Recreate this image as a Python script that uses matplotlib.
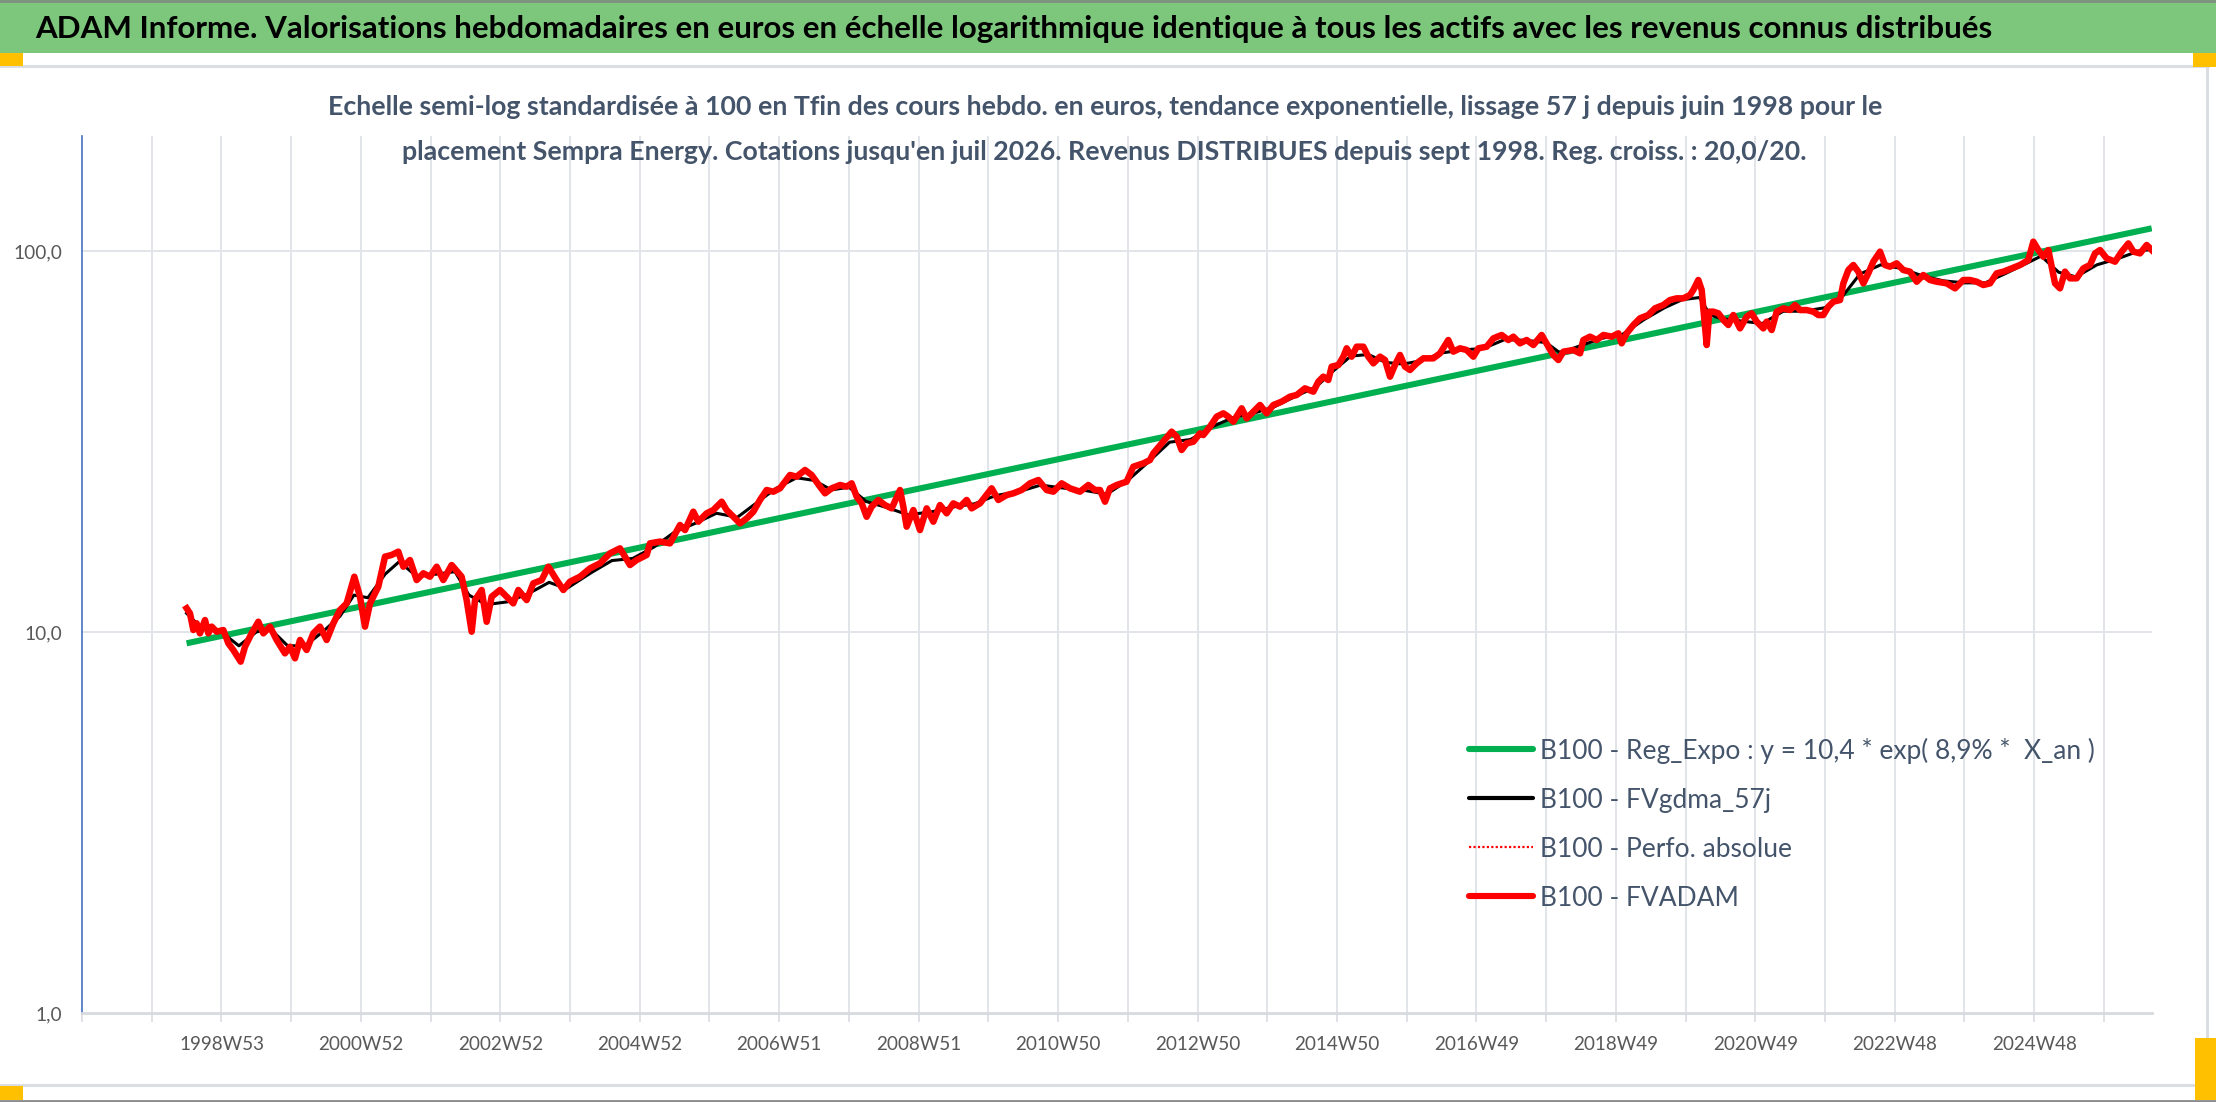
import matplotlib
matplotlib.use('Agg')
import matplotlib.pyplot as plt
from matplotlib.ticker import FixedLocator, FixedFormatter, NullLocator
from matplotlib.lines import Line2D
from matplotlib.patches import Rectangle

# ---------------- data ----------------
tick_years = list(range(1997, 2027))
label_years = [1999, 2001, 2003, 2005, 2007, 2009, 2011, 2013, 2015, 2017, 2019, 2021, 2023, 2025]
label_texts = ["1998W53", "2000W52", "2002W52", "2004W52", "2006W51", "2008W51", "2010W50",
               "2012W50", "2014W50", "2016W49", "2018W49", "2020W49", "2022W48", "2024W48"]
y_ticks = [1, 10, 100]
y_labels = ["1,0", "10,0", "100,0"]

trend_t = [1998.50, 2026.686]
trend_v = [9.34, 114.7]

fvadam_t = [
    1998.501, 1998.549, 1998.597, 1998.644, 1998.692, 1998.764, 1998.812, 1998.860, 1998.931, 1999.027,
    1999.099, 1999.170, 1999.276, 1999.338, 1999.433, 1999.529, 1999.601, 1999.696, 1999.792, 1999.911,
    1999.983, 2000.055, 2000.127, 2000.222, 2000.318, 2000.413, 2000.509, 2000.605, 2000.700, 2000.796,
    2000.906, 2000.987, 2001.059, 2001.131, 2001.250, 2001.346, 2001.441, 2001.537, 2001.609, 2001.704,
    2001.800, 2001.896, 2001.991, 2002.087, 2002.182, 2002.302, 2002.445, 2002.517, 2002.589, 2002.637,
    2002.732, 2002.804, 2002.876, 2002.995, 2003.091, 2003.186, 2003.258, 2003.378, 2003.473, 2003.593,
    2003.689, 2003.808, 2003.904, 2003.999, 2004.143, 2004.286, 2004.430, 2004.573, 2004.716, 2004.860,
    2004.955, 2005.099, 2005.147, 2005.290, 2005.434, 2005.577,
    2005.649, 2005.768, 2005.840, 2005.959, 2006.055, 2006.175, 2006.246, 2006.342, 2006.438, 2006.533,
    2006.629, 2006.724, 2006.820, 2006.916, 2007.011, 2007.155, 2007.250, 2007.370, 2007.465, 2007.585,
    2007.657, 2007.752, 2007.872, 2007.968, 2008.039, 2008.111, 2008.183, 2008.254, 2008.326, 2008.422,
    2008.517, 2008.613, 2008.733, 2008.780, 2008.828, 2008.924, 2009.019, 2009.115, 2009.211, 2009.306,
    2009.402, 2009.497, 2009.593, 2009.689, 2009.760, 2009.880, 2010.047, 2010.143, 2010.262, 2010.358,
    2010.477, 2010.597, 2010.717, 2010.836, 2010.932, 2011.051, 2011.171, 2011.314, 2011.434, 2011.529,
    2011.601, 2011.673, 2011.744, 2011.840, 2011.983, 2012.079, 2012.223, 2012.318, 2012.366, 2012.486,
    2012.629, 2012.701, 2012.772, 2012.844, 2012.940, 2013.035,
    2013.083, 2013.179, 2013.274, 2013.370, 2013.442, 2013.514, 2013.633, 2013.705, 2013.800, 2013.896,
    2013.992, 2014.087, 2014.207, 2014.326, 2014.422, 2014.541, 2014.661, 2014.733, 2014.804, 2014.876,
    2014.924, 2015.020, 2015.091, 2015.139, 2015.211, 2015.283, 2015.378, 2015.450, 2015.522, 2015.617,
    2015.689, 2015.761, 2015.832, 2015.904, 2015.976, 2016.048, 2016.143, 2016.239, 2016.382, 2016.478,
    2016.597, 2016.669, 2016.765, 2016.860, 2016.956, 2017.028, 2017.147, 2017.243, 2017.362, 2017.458,
    2017.530, 2017.625, 2017.721, 2017.817, 2017.936, 2018.032, 2018.103, 2018.175, 2018.247, 2018.390,
    2018.486, 2018.534, 2018.629, 2018.725, 2018.821, 2018.940, 2019.036, 2019.083, 2019.155, 2019.251,
    2019.346, 2019.466, 2019.562, 2019.681, 2019.777, 2019.872, 2019.968, 2020.064, 2020.111, 2020.183,
    2020.231, 2020.279, 2020.303, 2020.341,
    2020.398, 2020.470, 2020.542, 2020.613, 2020.685, 2020.781, 2020.876, 2020.948, 2021.020, 2021.115,
    2021.163, 2021.235, 2021.307, 2021.402, 2021.498, 2021.570, 2021.641, 2021.737, 2021.833, 2021.904,
    2021.976, 2022.048, 2022.119, 2022.215, 2022.263, 2022.335, 2022.406, 2022.478, 2022.550, 2022.621,
    2022.693, 2022.789, 2022.860, 2022.932, 2023.028, 2023.123, 2023.219, 2023.315, 2023.410, 2023.506,
    2023.602, 2023.745, 2023.865, 2023.984, 2024.080, 2024.175, 2024.271, 2024.367, 2024.462, 2024.558,
    2024.677, 2024.797, 2024.916, 2024.988, 2025.060, 2025.131, 2025.203, 2025.251, 2025.299, 2025.370,
    2025.442, 2025.514, 2025.610, 2025.705, 2025.801, 2025.873, 2025.944, 2026.040, 2026.160, 2026.255,
    2026.351, 2026.423, 2026.518, 2026.614, 2026.686]
fvadam_v = [
    11.54, 11.19, 10.12, 10.54, 9.92, 10.75, 9.92, 10.33, 10.02, 10.12,
    9.34, 8.97, 8.36, 9.15, 9.92, 10.64, 9.92, 10.33, 9.53, 8.79,
    9.15, 8.53, 9.53, 8.97, 9.92, 10.33, 9.53, 10.54, 11.42, 11.89,
    13.97, 12.38, 10.33, 11.89, 13.15, 15.77, 15.93, 16.25, 14.84, 15.45,
    13.69, 14.26, 13.97, 14.84, 13.69, 14.99, 13.97, 12.13, 10.02, 12.13,
    12.89, 10.64, 12.38, 12.89, 12.38, 11.89, 12.89, 12.13, 13.42, 13.69,
    14.84, 13.69, 12.89, 13.56, 13.97, 14.69, 15.15, 16.09, 16.58, 14.99,
    15.45, 15.93, 17.09, 17.27, 17.09, 19.09,
    18.52, 20.69, 19.48, 20.49, 20.90, 21.98, 20.90, 20.07, 19.28, 19.87,
    20.69, 22.21, 23.59, 23.35, 23.83, 25.83, 25.57, 26.62, 25.83, 24.07,
    23.12, 23.83, 24.31, 24.07, 24.56, 22.66, 21.76, 20.07, 21.33, 22.21,
    21.54, 21.11, 23.59, 21.33, 18.90, 20.90, 18.52, 21.11, 19.48, 21.54,
    20.49, 21.76, 21.33, 22.21, 21.11, 21.76, 23.83, 22.21, 22.88, 23.12,
    23.59, 24.56, 25.06, 23.59, 23.35, 24.56, 23.83, 23.35, 24.31, 23.59,
    23.59, 21.98, 23.83, 24.31, 24.81, 27.16, 27.71, 28.28, 29.44, 31.27,
    33.56, 32.56, 30.04, 31.27, 31.59, 33.22,
    32.89, 34.59, 36.74, 37.50, 36.74, 35.65, 38.65, 36.37, 37.87, 39.43,
    37.50, 39.43, 40.24, 41.47, 41.89, 43.61, 42.74, 45.41, 46.80, 45.87,
    49.72, 50.21, 52.81, 55.54, 52.81, 56.09, 56.09, 52.81, 50.72, 52.81,
    51.76, 46.80, 50.21, 53.35, 49.72, 48.73, 50.72, 52.28, 52.28, 53.89,
    58.40, 54.43, 55.54, 54.98, 52.81, 55.54, 56.09, 58.99, 60.20, 58.40,
    59.59, 57.24, 58.40, 56.66, 60.20, 56.09, 53.35, 51.76, 54.43, 54.98,
    53.89, 58.40, 59.59, 58.40, 60.20, 59.59, 60.80, 57.24, 60.80, 63.95,
    66.58, 67.94, 70.73, 72.16, 74.36, 75.12, 75.12, 76.66, 79.02, 83.93,
    79.02, 63.31, 56.66, 69.31,
    69.31, 68.62, 65.92, 63.95, 67.92, 62.66, 67.24, 68.62, 65.26, 62.66,
    65.26, 62.04, 69.31, 70.71, 70.00, 72.16, 70.00, 70.00, 69.31, 67.92,
    67.92, 71.44, 73.62, 74.36, 82.25, 89.15, 91.89, 88.27, 82.25, 87.38,
    93.76, 99.61, 91.89, 90.97, 92.81, 89.15, 88.27, 83.08, 86.50, 83.93,
    83.08, 82.25, 79.80, 83.93, 83.93, 83.08, 81.43, 82.25, 87.38, 88.27,
    90.05, 91.89, 94.71, 105.8, 100.6, 96.63, 100.6, 90.97, 82.25, 79.80,
    88.27, 84.79, 84.79, 90.05, 91.89, 98.60, 100.6, 95.68, 93.76, 99.61,
    104.7, 99.61, 98.60, 103.7, 100.6]

fvgdma_t = [
    1998.50, 1998.70, 1999.00, 1999.25, 1999.50, 1999.70, 1999.95, 2000.20, 2000.45, 2000.70,
    2000.90, 2001.10, 2001.35, 2001.55, 2001.80, 2002.10, 2002.35, 2002.55, 2002.80, 2003.10,
    2003.40, 2003.70, 2003.95, 2004.30, 2004.60, 2004.90, 2005.20, 2005.50, 2005.80, 2006.10,
    2006.40, 2006.70, 2006.95, 2007.25, 2007.50, 2007.75, 2008.00, 2008.25, 2008.55, 2008.85,
    2009.20, 2009.50, 2009.80, 2010.10, 2010.45, 2010.75, 2011.05, 2011.40, 2011.70, 2012.00,
    2012.30, 2012.60, 2012.90, 2013.20, 2013.50, 2013.80, 2014.10, 2014.40, 2014.70, 2014.95,
    2015.20, 2015.45, 2015.70, 2015.95, 2016.20, 2016.50, 2016.80, 2017.10, 2017.40, 2017.70,
    2018.00, 2018.20, 2018.50, 2018.80, 2019.10, 2019.40, 2019.70, 2019.95, 2020.20, 2020.35,
    2020.50, 2020.80, 2021.10, 2021.40, 2021.70, 2022.00, 2022.25, 2022.50, 2022.80, 2023.10,
    2023.40, 2023.70, 2024.00, 2024.30, 2024.60, 2024.90, 2025.10, 2025.35, 2025.60, 2025.90,
    2026.20, 2026.50, 2026.686]
fvgdma_v = [
    11.2, 10.3, 10.0, 9.2, 10.0, 10.2, 9.2, 9.2, 10.0, 11.0,
    12.5, 12.3, 14.2, 15.3, 14.0, 14.2, 14.4, 12.5, 11.8, 12.0,
    12.6, 13.5, 13.0, 14.3, 15.4, 15.6, 16.7, 18.3, 19.3, 20.5,
    20.0, 22.0, 23.8, 25.4, 25.0, 23.6, 24.0, 22.0, 21.2, 20.3,
    20.7, 21.3, 21.7, 22.8, 23.4, 24.3, 23.9, 23.5, 23.0, 25.0,
    28.0, 31.5, 32.0, 34.5, 36.5, 37.5, 39.0, 41.5, 44.0, 48.5,
    53.0, 53.5, 51.0, 50.5, 51.5, 54.0, 55.0, 55.5, 58.5, 58.3,
    57.5, 54.0, 56.5, 59.0, 60.5, 66.0, 71.0, 74.5, 75.5, 68.0,
    66.5, 65.5, 64.5, 69.5, 69.5, 71.0, 76.0, 87.0, 92.0, 90.0,
    86.0, 83.5, 82.5, 82.5, 87.5, 93.0, 97.0, 88.0, 85.5, 92.0,
    95.5, 100.0, 101.0]

legend_labels = ["B100 - Reg_Expo : y = 10,4 * exp( 8,9% *  X_an )",
                 "B100 - FVgdma_57j",
                 "B100 - Perfo. absolue",
                 "B100 - FVADAM"]

title_text = ("ADAM Informe. Valorisations hebdomadaires en euros en échelle logarithmique "
              "identique à tous les actifs avec les revenus connus distribués")
sub1 = ("Echelle semi-log standardisée à 100 en Tfin des cours hebdo. en euros, tendance "
        "exponentielle, lissage 57 j depuis juin 1998 pour le")
sub2 = ("placement Sempra Energy. Cotations jusqu'en juil 2026. Revenus DISTRIBUES depuis "
        "sept 1998. Reg. croiss. : 20,0/20.")

# ---------------- layout ----------------
W, H = 2216, 1102
DPI = 100
FAM = ['Lato', 'Liberation Sans', 'DejaVu Sans']
TXT = '#44546A'
TICKC = '#595959'
GRID = '#E1E4E8'

fig = plt.figure(figsize=(W / DPI, H / DPI), dpi=DPI)
fig.patch.set_facecolor('white')
renderer = fig.canvas.get_renderer()


def fx(x):
    return x / W


def fy(y):
    return 1 - y / H


def rect_px(x0, y0, x1, y1, color, z=0):
    fig.patches.append(Rectangle((fx(x0), fy(y1)), (x1 - x0) / W, (y1 - y0) / H,
                                 transform=fig.transFigure, facecolor=color,
                                 edgecolor='none', zorder=z))


def hline_px(x0, x1, y, color, lw):
    fig.add_artist(Line2D([fx(x0), fx(x1)], [fy(y), fy(y)], transform=fig.transFigure,
                          color=color, lw=lw))


def vline_px(x, y0, y1, color, lw):
    fig.add_artist(Line2D([fx(x), fx(x)], [fy(y0), fy(y1)], transform=fig.transFigure,
                          color=color, lw=lw))


def fit_size(text, target_w, weight='normal', base=20):
    t = fig.text(0, 0, text, fontsize=base, family=FAM, fontweight=weight)
    w = t.get_window_extent(renderer).width
    t.remove()
    return base * target_w / w


# title bar & frame
rect_px(0, 0, W, 53, '#7DC77D')
hline_px(0, W, 1, '#7f8f7f', 2)
hline_px(0, 2208, 66, '#DADDE2', 2.2)
hline_px(0, 2208, 1085, '#DADDE2', 2.2)
vline_px(2207, 66, 1085, '#DADDE2', 2.2)
hline_px(0, W, 1101, '#8a8a8a', 2)
rect_px(0, 53, 23, 66, '#FFC000', 5)
rect_px(2193, 53, W, 67, '#FFC000', 5)
rect_px(0, 1086, 23, 1100, '#FFC000', 5)
rect_px(2195, 1038, W, 1100, '#FFC000', 5)

fs_title = fit_size(title_text, 1953, 'bold')
fig.text(fx(35), fy(29), title_text, fontsize=fs_title, family=FAM, fontweight='bold',
         color='black', ha='left', va='center')

fs_sub = fit_size(sub1, 1560, 'bold')
fig.text(fx(1105), fy(107), sub1, fontsize=fs_sub, family=FAM, fontweight='bold',
         color=TXT, ha='center', va='center', zorder=10)
fig.text(fx(1104), fy(152), sub2, fontsize=fs_sub, family=FAM, fontweight='bold',
         color=TXT, ha='center', va='center', zorder=10)

# ---------------- axes ----------------
ax = fig.add_axes([fx(82), fy(1013), (2152 - 82) / W, (1013 - 136) / H])
ax.set_facecolor('none')
ax.set_yscale('log')
ax.set_xlim(1997.0, 2026.69)
ax.set_ylim(1.0, 200.4)

ax.plot(trend_t, trend_v, color='#00B050', lw=4.4, solid_capstyle='butt', zorder=3)
ax.plot(fvgdma_t, fvgdma_v, color='black', lw=2.2, zorder=4)
ax.plot(fvadam_t, fvadam_v, color='red', lw=1.2, ls=':', zorder=4.5)
ax.plot(fvadam_t, fvadam_v, color='red', lw=4.7, solid_joinstyle='round', zorder=5)

# grid
for yv in y_ticks[1:]:
    ax.axhline(yv, color=GRID, lw=1.4, zorder=1)
for xv in tick_years[1:]:
    ax.axvline(xv, color=GRID, lw=1.4, zorder=1)

for s in ['top', 'right']:
    ax.spines[s].set_visible(False)
ax.spines['left'].set_color('#4472C4')
ax.spines['left'].set_linewidth(1.2)
ax.spines['bottom'].set_color('#D6D9DE')
ax.spines['bottom'].set_linewidth(2.0)

fs_xt = fit_size("1998W53", 85)
fs_yt = fit_size("100,0", 49)

ax.xaxis.set_major_locator(FixedLocator(tick_years))
lab_map = dict(zip(label_years, label_texts))
ax.xaxis.set_major_formatter(FixedFormatter([lab_map.get(y, '') for y in tick_years]))
ax.xaxis.set_minor_locator(NullLocator())
ax.tick_params(axis='x', direction='out', length=6.5, width=1.1, color='#D6D9DE',
               pad=10, labelsize=fs_xt, labelcolor=TICKC)
for lab in ax.get_xticklabels():
    lab.set_family(FAM)

ax.yaxis.set_major_locator(FixedLocator(y_ticks))
ax.yaxis.set_major_formatter(FixedFormatter(y_labels))
ax.yaxis.set_minor_locator(NullLocator())
ax.tick_params(axis='y', length=0, pad=14, labelsize=fs_yt, labelcolor=TICKC)
for lab in ax.get_yticklabels():
    lab.set_family(FAM)

# ---------------- legend ----------------
fs_leg = fit_size(legend_labels[0], 555)
fs_px = fs_leg * DPI / 72.0
handles = [Line2D([], [], color='#00B050', lw=4.4, solid_capstyle='round'),
           Line2D([], [], color='black', lw=3.0, solid_capstyle='round'),
           Line2D([], [], color='red', lw=1.6, ls=(0, (1, 1))),
           Line2D([], [], color='red', lw=4.4, solid_capstyle='round')]
tmp = fig.text(0, 0, legend_labels[1], fontsize=fs_leg, family=FAM)
th = tmp.get_window_extent(renderer).height
tmp.remove()
leg = ax.legend(handles, legend_labels, loc='upper left',
                bbox_to_anchor=(fx(1469), fy(750 - th / 2)), bbox_transform=fig.transFigure,
                frameon=False, borderpad=0, borderaxespad=0,
                handlelength=64 / fs_px, handletextpad=7 / fs_px,
                labelspacing=(49 - th) / fs_px,
                prop={'family': FAM, 'size': fs_leg})
for t in leg.get_texts():
    t.set_color(TXT)

fig.savefig('out.png', dpi=DPI, facecolor='white')
